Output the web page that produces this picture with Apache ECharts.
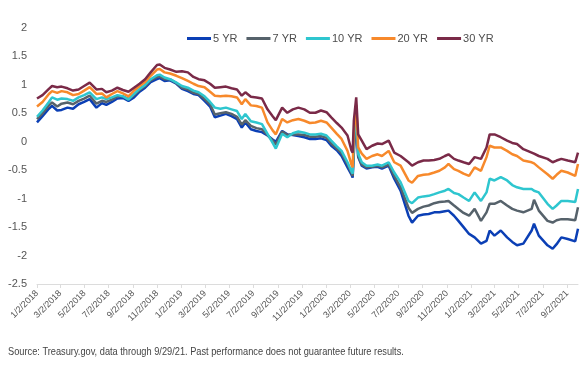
<!DOCTYPE html>
<html>
<head>
<meta charset="utf-8">
<script src="https://cdn.jsdelivr.net/npm/echarts@6/dist/echarts.min.js"></script>
<style>
  html, body { margin: 0; padding: 0; background: #fff; }
  #chart { width: 586px; height: 384px; }
</style>
</head>
<body>
<div id="chart"></div>
<script>
const dates = [
  '2018-01-02', '2018-01-16', '2018-02-01', '2018-02-09', '2018-02-22', '2018-03-05', '2018-03-20',
  '2018-04-03', '2018-04-17', '2018-05-01', '2018-05-15', '2018-06-01', '2018-06-15', '2018-06-26',
  '2018-07-10', '2018-07-24', '2018-08-07', '2018-08-21', '2018-09-04', '2018-09-18', '2018-10-02',
  '2018-10-16', '2018-11-01', '2018-11-08', '2018-11-20', '2018-12-04', '2018-12-20', '2019-01-03',
  '2019-01-18', '2019-02-01', '2019-02-14', '2019-03-01', '2019-03-15', '2019-03-27', '2019-04-10',
  '2019-04-24', '2019-05-08', '2019-05-22', '2019-06-03', '2019-06-12', '2019-06-26', '2019-07-10',
  '2019-07-24', '2019-08-07', '2019-08-20', '2019-08-28', '2019-09-13', '2019-09-26', '2019-10-10',
  '2019-10-24', '2019-11-08', '2019-11-22', '2019-12-06', '2019-12-20', '2020-01-03', '2020-01-15',
  '2020-01-29', '2020-02-10', '2020-02-25', '2020-03-06', '2020-03-09', '2020-03-12', '2020-03-18',
  '2020-03-23', '2020-04-01', '2020-04-13', '2020-04-27', '2020-05-11', '2020-05-22', '2020-06-08',
  '2020-06-22', '2020-07-08', '2020-07-28', '2020-08-06', '2020-08-21', '2020-09-04', '2020-09-17',
  '2020-10-01', '2020-10-14', '2020-10-28', '2020-11-06', '2020-11-20', '2020-12-01', '2020-12-14',
  '2020-12-28', '2021-01-11', '2021-01-27', '2021-02-10', '2021-02-18', '2021-03-02', '2021-03-18',
  '2021-04-03', '2021-04-16', '2021-04-28', '2021-05-14', '2021-06-04', '2021-06-10', '2021-06-22',
  '2021-07-14', '2021-07-27', '2021-08-06', '2021-08-18', '2021-09-03', '2021-09-22', '2021-09-29'
];

const yr5 = [
  0.34, 0.45, 0.58, 0.63, 0.55, 0.56, 0.60,
  0.58, 0.66, 0.70, 0.75, 0.60, 0.68, 0.65,
  0.70, 0.76, 0.77, 0.72, 0.78, 0.88, 0.95,
  1.05, 1.10, 1.12, 1.07, 1.08, 1.02, 0.93,
  0.89, 0.84, 0.82, 0.72, 0.62, 0.43, 0.46,
  0.49, 0.45, 0.40, 0.25, 0.34, 0.22, 0.19,
  0.17, 0.11, 0.04, 0.00, 0.19, 0.13, 0.12,
  0.10, 0.08, 0.05, 0.05, 0.06, 0.03, -0.07,
  -0.15, -0.25, -0.45, -0.58, -0.63, -0.20, 0.45,
  -0.27, -0.42, -0.47, -0.45, -0.44, -0.47, -0.42,
  -0.65, -0.86, -1.30, -1.42, -1.30, -1.28, -1.27,
  -1.24, -1.24, -1.22, -1.21, -1.30, -1.39, -1.50,
  -1.62, -1.68, -1.79, -1.74, -1.56, -1.65, -1.56,
  -1.68, -1.76, -1.82, -1.79, -1.56, -1.44, -1.65,
  -1.82, -1.88, -1.80, -1.68, -1.71, -1.75, -1.53
];

const yr7 = [
  0.40, 0.50, 0.64, 0.69, 0.62, 0.67, 0.69,
  0.66, 0.72, 0.76, 0.81, 0.67, 0.72, 0.70,
  0.74, 0.80, 0.80, 0.75, 0.82, 0.91, 0.98,
  1.08, 1.14, 1.15, 1.10, 1.10, 1.03, 0.95,
  0.92, 0.86, 0.84, 0.75, 0.66, 0.48, 0.50,
  0.52, 0.49, 0.44, 0.30, 0.38, 0.28, 0.24,
  0.22, 0.12, 0.02, -0.05, 0.18, 0.12, 0.13,
  0.13, 0.12, 0.09, 0.09, 0.10, 0.07, -0.03,
  -0.12, -0.20, -0.40, -0.55, -0.60, -0.10, 0.50,
  -0.25, -0.40, -0.45, -0.44, -0.42, -0.45, -0.40,
  -0.60, -0.80, -1.16, -1.25, -1.18, -1.14, -1.12,
  -1.08, -1.06, -1.05, -1.04, -1.12, -1.18, -1.25,
  -1.30, -1.18, -1.39, -1.24, -1.09, -1.09, -1.04,
  -1.12, -1.18, -1.21, -1.24, -1.18, -1.02, -1.21,
  -1.39, -1.42, -1.38, -1.36, -1.36, -1.38, -1.15
];

const yr10 = [
  0.44, 0.55, 0.70, 0.78, 0.74, 0.76, 0.75,
  0.72, 0.78, 0.82, 0.87, 0.75, 0.78, 0.75,
  0.78, 0.82, 0.80, 0.74, 0.84, 0.93, 1.00,
  1.10, 1.17, 1.18, 1.13, 1.10, 1.04, 0.98,
  0.95, 0.90, 0.87, 0.80, 0.70, 0.60, 0.58,
  0.60, 0.57, 0.54, 0.40, 0.49, 0.36, 0.34,
  0.31, 0.14, -0.02, -0.12, 0.14, 0.08, 0.15,
  0.18, 0.16, 0.13, 0.13, 0.14, 0.11, 0.02,
  -0.08, -0.16, -0.36, -0.52, -0.56, 0.00, 0.55,
  -0.21, -0.36, -0.42, -0.42, -0.40, -0.42, -0.36,
  -0.54, -0.71, -1.04, -1.08, -0.98, -0.96, -0.95,
  -0.92, -0.89, -0.86, -0.83, -0.90, -0.92, -0.98,
  -1.04, -0.89, -1.04, -0.89, -0.65, -0.68, -0.62,
  -0.68, -0.76, -0.80, -0.83, -0.83, -0.86, -0.89,
  -1.09, -1.18, -1.12, -1.04, -1.04, -1.06, -0.83
];

const yr20 = [
  0.62, 0.70, 0.84, 0.89, 0.86, 0.89, 0.87,
  0.82, 0.84, 0.90, 0.96, 0.84, 0.85, 0.78,
  0.84, 0.89, 0.85, 0.80, 0.90, 0.98, 1.05,
  1.16, 1.27, 1.28, 1.22, 1.20, 1.16, 1.12,
  1.07, 1.02, 0.98, 0.96, 0.88, 0.81, 0.80,
  0.81, 0.80, 0.78, 0.66, 0.75, 0.64, 0.63,
  0.60, 0.34, 0.20, 0.13, 0.40, 0.34, 0.38,
  0.40, 0.37, 0.33, 0.34, 0.37, 0.34, 0.25,
  0.14, 0.05, -0.16, -0.40, -0.45, 0.15, 0.65,
  -0.10, -0.21, -0.30, -0.25, -0.22, -0.25, -0.16,
  -0.36, -0.42, -0.68, -0.72, -0.60, -0.58, -0.57,
  -0.54, -0.51, -0.45, -0.39, -0.48, -0.51, -0.56,
  -0.60, -0.45, -0.51, -0.27, -0.07, -0.10, -0.10,
  -0.16, -0.22, -0.25, -0.33, -0.36, -0.38, -0.45,
  -0.57, -0.65, -0.58, -0.51, -0.54, -0.60, -0.39
];

const yr30 = [
  0.76, 0.82, 0.93, 0.98, 0.96, 0.97, 0.94,
  0.90, 0.92, 0.98, 1.04, 0.92, 0.93, 0.87,
  0.90, 0.95, 0.91, 0.88, 0.95, 1.02, 1.10,
  1.22, 1.35, 1.36, 1.30, 1.27, 1.23, 1.24,
  1.22, 1.14, 1.10, 1.08, 1.02, 0.95, 0.96,
  0.97, 0.94, 0.92, 0.81, 0.87, 0.79, 0.78,
  0.76, 0.57, 0.45, 0.38, 0.60, 0.51, 0.57,
  0.60, 0.57, 0.51, 0.51, 0.55, 0.52, 0.43,
  0.33, 0.25, 0.11, -0.15, -0.19, 0.37, 0.78,
  0.13, 0.02, -0.13, -0.07, -0.03, -0.04, 0.02,
  -0.19, -0.25, -0.36, -0.42, -0.36, -0.33, -0.33,
  -0.32, -0.30, -0.25, -0.22, -0.30, -0.33, -0.36,
  -0.39, -0.27, -0.30, -0.10, 0.13, 0.13, 0.08,
  0.02, -0.02, -0.04, -0.13, -0.19, -0.21, -0.25,
  -0.30, -0.36, -0.33, -0.30, -0.33, -0.36, -0.19
];

const labelDates = [
  '2018-01-02', '2018-03-02', '2018-05-02', '2018-07-02', '2018-09-02', '2018-11-02',
  '2019-01-02', '2019-03-02', '2019-05-02', '2019-07-02', '2019-09-02', '2019-11-02',
  '2020-01-02', '2020-03-02', '2020-05-02', '2020-07-02', '2020-09-02', '2020-11-02',
  '2021-01-02', '2021-03-02', '2021-05-02', '2021-07-02', '2021-09-02'
];

const seriesNames = ['5 YR', '7 YR', '10 YR', '20 YR', '30 YR'];
const seriesColors = ['#0b3fb5', '#56626b', '#2ec6cf', '#f7892b', '#7a2a48'];
const seriesValues = [yr5, yr7, yr10, yr20, yr30];

function ts(s) {
  const p = s.split('-').map(Number);
  return new Date(p[0], p[1] - 1, p[2]).getTime();
}

function fmtDate(v) {
  const d = new Date(v);
  return (d.getMonth() + 1) + '/' + d.getDate() + '/' + d.getFullYear();
}

const labelTs = labelDates.map(ts);
const xMin = ts('2018-01-02');
const xMax = ts('2021-09-29');

const chart = echarts.init(document.getElementById('chart'));

chart.setOption({
  animation: false,
  textStyle: { fontFamily: 'Liberation Sans, Arial, sans-serif' },
  legend: {
    data: seriesNames,
    left: 182,
    top: 28,
    icon: 'rect',
    itemWidth: 24,
    itemHeight: 3,
    itemGap: 9,
    textStyle: {
      color: '#4d4d4d',
      fontSize: 11,
      padding: [0, 0, 0, -3]
    }
  },
  grid: { left: 37, right: 8, top: 28, bottom: 100 },
  xAxis: [{
    type: 'value',
    min: xMin,
    max: xMax,
    position: 'bottom',
    axisLine: { show: false },
    axisTick: { show: false },
    splitLine: { show: false },
    axisLabel: {
      customValues: labelTs,
      formatter: fmtDate,
      rotate: 45,
      margin: 8,
      fontSize: 9,
      color: '#555'
    }
  }, {
    type: 'value',
    min: xMin,
    max: xMax,
    position: 'bottom',
    axisLine: { show: true, onZero: true, lineStyle: { color: '#dcdcdc', width: 1 } },
    axisTick: { show: true, customValues: labelTs, length: 4, lineStyle: { color: '#dcdcdc' } },
    axisLabel: { show: false },
    splitLine: { show: false }
  }],
  yAxis: {
    type: 'value',
    min: -2.5,
    max: 2,
    interval: 0.5,
    axisLine: { show: false },
    axisTick: { show: false },
    splitLine: { show: false },
    axisLabel: { color: '#555', fontSize: 11, margin: 10 }
  },
  series: seriesNames.map((name, i) => ({
    name: name,
    type: 'line',
    xAxisIndex: 0,
    showSymbol: false,
    symbol: 'none',
    lineStyle: { width: 2.5, color: seriesColors[i] },
    itemStyle: { color: seriesColors[i] },
    data: dates.map((d, j) => [ts(d), seriesValues[i][j]])
  })),
  graphic: [{
    type: 'text',
    left: 8,
    top: 346,
    scaleX: 0.84,
    style: {
      text: 'Source: Treasury.gov, data through 9/29/21. Past performance does not guarantee future results.',
      fill: '#444',
      fontSize: 11
    }
  }]
});
</script>
</body>
</html>
